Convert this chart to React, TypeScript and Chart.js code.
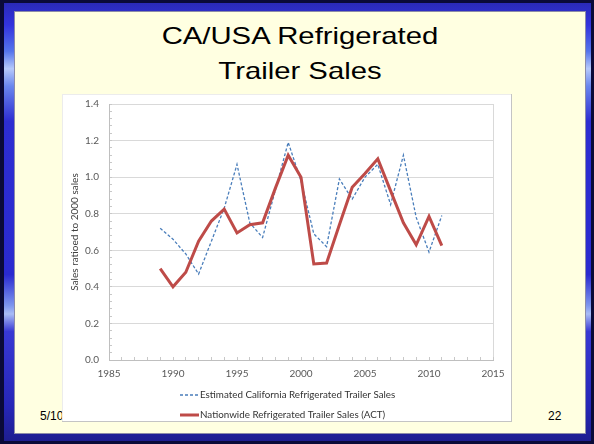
import React, { useEffect, useRef } from "react";
import { Chart, registerables } from "chart.js";

Chart.register(...registerables);

// ---- data ----
const years = [1989, 1990, 1991, 1992, 1993, 1994, 1995, 1996, 1997, 1998, 1999, 2000, 2001, 2002, 2003, 2004, 2005, 2006, 2007, 2008, 2009, 2010, 2011];
const californiaSales = [0.72, 0.66, 0.58, 0.47, 0.65, 0.83, 1.07, 0.75, 0.67, 0.93, 1.19, 0.98, 0.69, 0.62, 0.99, 0.88, 1.0, 1.07, 0.85, 1.12, 0.78, 0.59, 0.79];
const nationwideSales = [0.5, 0.4, 0.48, 0.65, 0.76, 0.825, 0.695, 0.74, 0.75, 0.94, 1.12, 1.0, 0.525, 0.53, 0.74, 0.945, 1.02, 1.1, 0.925, 0.75, 0.63, 0.785, 0.625];
const seriesLabels = ["Estimated California Refrigerated Trailer Sales", "Nationwide Refrigerated Trailer Sales (ACT)"];
const xTickLabels = [1985, 1990, 1995, 2000, 2005, 2010, 2015];
const yTickLabels = [0, 0.2, 0.4, 0.6, 0.8, 1.0, 1.2, 1.4];
const yAxisTitle = "Sales ratioed to 2000 sales";
const titleLines = ["CA/USA Refrigerated", "Trailer Sales"];
const footerDate = "5/10";
const slideNumber = "22";

const TICK_FONT = { family: "Lato, 'Open Sans', sans-serif", size: 10 };
const LEGEND_FONT = "9.8px Lato, 'Open Sans', sans-serif";

const isYMajor = (v: number) => yTickLabels.some((t) => Math.abs(t - v) < 1e-6);
const isXMajor = (v: number) => xTickLabels.some((t) => Math.abs(t - v) < 1e-6);

const slideLegend = {
  id: "slideLegend",
  afterDraw(chart: any) {
    const ctx = chart.ctx;
    const left = chart.chartArea.left + 71;
    const rowsY = [chart.chartArea.bottom + 35, chart.chartArea.bottom + 55];
    chart.data.datasets.forEach((ds: any, i: number) => {
      const y = rowsY[i];
      ctx.save();
      ctx.strokeStyle = ds.borderColor;
      ctx.lineWidth = ds.borderWidth;
      ctx.setLineDash(ds.borderDash || []);
      ctx.beginPath();
      ctx.moveTo(left, y);
      ctx.lineTo(left + 19, y);
      ctx.stroke();
      ctx.restore();
      ctx.save();
      ctx.font = LEGEND_FONT;
      ctx.fillStyle = "#333333";
      ctx.textBaseline = "middle";
      ctx.textAlign = "left";
      ctx.fillText(ds.label, left + 20, y);
      ctx.restore();
    });
  },
};

function TrailerChart() {
  const ref = useRef<HTMLCanvasElement | null>(null);
  useEffect(() => {
    if (!ref.current) return;
    const chart = new Chart(ref.current, {
      type: "line",
      data: {
        datasets: [
          {
            label: seriesLabels[0],
            data: years.map((x, i) => ({ x, y: californiaSales[i] })),
            borderColor: "#4A7EBB",
            borderWidth: 1.3,
            borderDash: [3, 2],
            pointRadius: 0,
            tension: 0,
            fill: false,
            order: 1,
          },
          {
            label: seriesLabels[1],
            data: years.map((x, i) => ({ x, y: nationwideSales[i] })),
            borderColor: "#BE4B48",
            borderWidth: 3,
            pointRadius: 0,
            tension: 0,
            fill: false,
            order: 0,
          },
        ],
      },
      options: {
        animation: false,
        responsive: false,
        devicePixelRatio: 1,
        events: [],
        layout: { padding: { left: 0, right: 19, top: 10, bottom: 40 } },
        plugins: { legend: { display: false }, tooltip: { enabled: false }, title: { display: false } },
        scales: {
          x: {
            type: "linear",
            min: xTickLabels[0],
            max: xTickLabels[xTickLabels.length - 1],
            afterFit: (s: any) => {
              s.height = 22;
              s.paddingLeft = 10;
              s.paddingRight = 10;
            },
            ticks: {
              stepSize: 1,
              autoSkip: false,
              maxRotation: 0,
              minRotation: 0,
              padding: 11,
              color: "#595959",
              font: TICK_FONT,
              callback: (v: any) => (isXMajor(Number(v)) ? String(v) : ""),
            },
            grid: {
              color: (c: any) => (c.tick && c.tick.value === xTickLabels[xTickLabels.length - 1] ? "#d9d9d9" : "rgba(0,0,0,0)"),
              tickColor: "#c8c8c8",
              tickLength: -3,
              lineWidth: 1,
            },
            border: { display: true, color: "#bfbfbf", width: 1 },
          },
          y: {
            min: yTickLabels[0],
            max: yTickLabels[yTickLabels.length - 1],
            afterFit: (s: any) => {
              s.width = 47;
              s.paddingTop = 5;
              s.paddingBottom = 5;
            },
            ticks: {
              stepSize: 0.04,
              autoSkip: false,
              padding: 13,
              color: "#595959",
              font: TICK_FONT,
              callback: (v: any) => (isYMajor(Number(v)) ? Number(v).toFixed(1) : ""),
            },
            grid: {
              color: (c: any) => (c.tick && isYMajor(c.tick.value) ? "#d9d9d9" : "rgba(0,0,0,0)"),
              tickColor: "#c8c8c8",
              tickLength: -3,
              lineWidth: 1,
            },
            border: { display: true, color: "#bfbfbf", width: 1 },
            title: {
              display: true,
              text: yAxisTitle,
              color: "#404040",
              font: TICK_FONT,
              padding: { top: 7, bottom: 0 },
            },
          },
        },
      },
      plugins: [slideLegend],
    } as any);
    return () => chart.destroy();
  }, []);
  return <canvas ref={ref} width={450} height={328} style={{ position: "absolute", left: 0, top: 0, width: 450, height: 328 }} />;
}

export default function App() {
  return (
    <div style={{ position: "fixed", left: 0, top: 0, width: 594, height: 444, background: "#0a0a38", overflow: "hidden" }}>
      <div
        style={{
          position: "absolute",
          left: 4,
          top: 3,
          width: 587,
          height: 438,
          background:
            "linear-gradient(to bottom, #2a2ab8 0%, #3333dd 5%, #5574ec 11%, #b6c9fb 15%, #6a86ee 19%, #2d2dd2 27%, #2a2ad0 62%, #7d95ee 69%, #a9bcf6 71%, #3838d4 75%, #2626b8 92%, #1e1e90 100%)",
        }}
      />
      <div
        style={{
          position: "absolute",
          left: 14,
          top: 11,
          width: 572,
          height: 423,
          background: "#FFFFE1",
          boxShadow: "inset 0 0 0 1px #8c8ca8",
        }}
      />
      <div
        style={{
          position: "absolute",
          left: 14,
          top: 17.5,
          width: 572,
          textAlign: "center",
          fontFamily: "'Liberation Sans', Arial, sans-serif",
          fontSize: 24,
          lineHeight: "35px",
          color: "#000",
          transform: "scaleX(1.22)",
          transformOrigin: "center",
        }}
      >
        {titleLines.map((t) => (
          <div key={t}>{t}</div>
        ))}
      </div>
      <div
        style={{
          position: "absolute",
          left: 40,
          top: 408.5,
          fontFamily: "'Liberation Sans', Arial, sans-serif",
          fontSize: 12,
          lineHeight: "15px",
          color: "#000",
        }}
      >
        {footerDate}
      </div>
      <div
        style={{
          position: "absolute",
          left: 548,
          top: 408.5,
          fontFamily: "'Liberation Sans', Arial, sans-serif",
          fontSize: 12,
          lineHeight: "15px",
          color: "#000",
        }}
      >
        {slideNumber}
      </div>
      <div
        style={{
          position: "absolute",
          left: 62,
          top: 94,
          width: 450,
          height: 328,
          background: "#ffffff",
          boxShadow: "inset -1px -1px 0 #c4c4c4, inset 1px 1px 0 #ececec",
        }}
      >
        <TrailerChart />
      </div>
    </div>
  );
}
